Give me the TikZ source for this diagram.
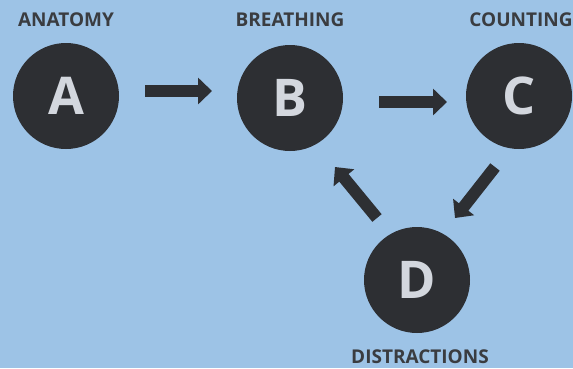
\documentclass[tikz,border=0pt]{standalone}
\usepackage{fontspec}
\setmainfont{Open Sans}
\usetikzlibrary{arrows.meta,calc}
\definecolor{bgblue}{HTML}{9DC3E6}
\definecolor{circdark}{HTML}{2D2F33}
\definecolor{lettergrey}{HTML}{D3D7DE}
\definecolor{labeldark}{HTML}{3A3C40}
\begin{document}
\begin{tikzpicture}[x=1pt,y=-1pt,
  stage/.style={circle,fill=circdark,minimum size=106pt,inner sep=0pt,
    text=lettergrey,font=\fontsize{52}{52}\selectfont\bfseries},
  lbl/.style={text=labeldark,font=\fontsize{19}{19}\selectfont\bfseries,inner sep=0pt},
  blockarrow/.style={draw=circdark,line width=12pt,
    -{Triangle[length=14pt,width=26pt]}}]
\fill[bgblue] (0,0) rectangle (573,368);
\useasboundingbox (0,0) rectangle (573,368);
\node[stage] (A) at (66,96) {A};
\node[stage] (B) at (290,98) {B};
\node[stage] (C) at (519,96) {C};
\node[stage] (D) at (417,280) {D};
\node[lbl] (la) at (66,20) {ANATOMY};
\node[lbl] (lb) at (290,20) {BREATHING};
\node[lbl] (lc) at (521,20) {COUNTING};
\node[lbl] (ld) at (420,357) {DISTRACTIONS};
\draw[blockarrow] ($(A)+(79,-5)$) -- ($(B)+(-78,-7)$);
\draw[blockarrow] ($(B)+(89,4)$) -- ($(C)+(-72,6)$);
\draw[blockarrow] ($(C)+(-24,71)$) -- ($(D)+(38,-62)$);
\draw[blockarrow] ($(D)+(-40,-62)$) -- ($(B)+(45,69)$);
\end{tikzpicture}
\end{document}
